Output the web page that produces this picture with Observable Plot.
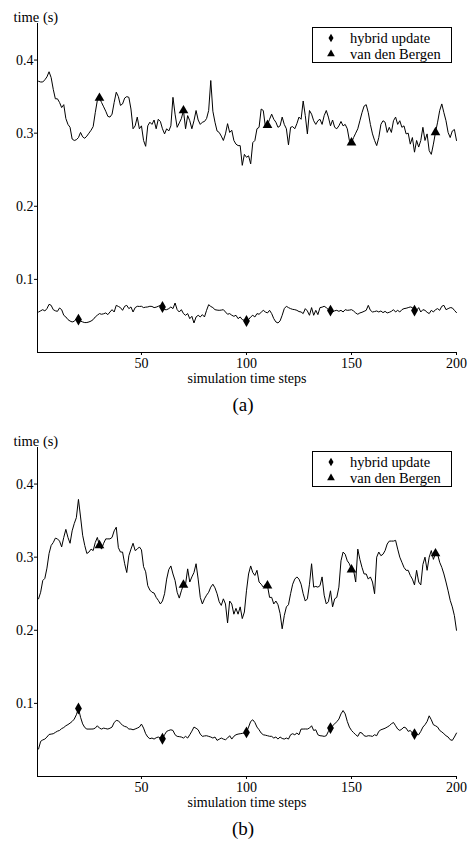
<!DOCTYPE html>
<html>
<head>
<meta charset="utf-8">
<script src="https://cdn.jsdelivr.net/npm/d3@7"></script>
<script src="https://cdn.jsdelivr.net/npm/@observablehq/plot@0.6"></script>
<style>
  body { margin: 0; background: #fff; font-family: "Liberation Serif", "Times New Roman", "DejaVu Serif", serif; }
  .panel { position: relative; width: 473px; height: 424px; }
  .panel svg { display: block; font-family: "Liberation Serif", "Times New Roman", "DejaVu Serif", serif !important; }
  .panel svg text { font-family: "Liberation Serif", "Times New Roman", "DejaVu Serif", serif !important; }
  .legend { position: absolute; left: 312px; top: 27px; width: 140px; height: 36px;
            border: 1px solid #000; box-sizing: border-box; background: #fff;
            font-family: "Liberation Serif", "Times New Roman", serif; font-size: 14.5px; color: #000; }
  .legend .item { position: absolute; left: 0; height: 16px; width: 100%; }
  .legend .item svg { position: absolute; left: 12px; top: 2px; }
  .legend .item span { position: absolute; left: 37px; top: 0px; white-space: nowrap; line-height: 16px; }
</style>
</head>
<body>
<div id="root"></div>
<script>
// ---- data ----
const xTicks = [50, 100, 150, 200];
const yTicks = [0.1, 0.2, 0.3, 0.4];
const hybridMarkSteps = [20, 60, 100, 140, 180];
const vdbMarkSteps = [30, 70, 110, 150, 190];
const seriesNames = ["hybrid update", "van den Bergen"];
const captions = ["(a)", "(b)"];

// panel (a): van den Bergen, steps 1..200
const vdbA = [
.371,.370,.370,.373,.377,.384,.376,.360,.347,.347,.342,.335,.339,.320,.312,.308,.292,.290,.291,.294,
.301,.295,.293,.296,.300,.304,.309,.328,.345,.348,.342,.336,.330,.323,.322,.326,.342,.356,.350,.338,
.340,.348,.350,.349,.333,.306,.310,.322,.306,.310,.290,.282,.310,.315,.312,.318,.306,.319,.316,.306,
.299,.306,.303,.310,.349,.326,.308,.314,.320,.331,.306,.324,.317,.306,.317,.331,.318,.312,.315,.316,
.320,.331,.372,.330,.315,.303,.301,.296,.290,.299,.313,.301,.304,.290,.285,.283,.283,.256,.271,.267,
.269,.258,.287,.290,.306,.308,.333,.331,.309,.311,.319,.326,.319,.315,.308,.310,.322,.312,.306,.284,
.308,.309,.306,.313,.322,.319,.344,.324,.299,.331,.326,.317,.312,.317,.319,.312,.324,.331,.322,.310,
.318,.308,.306,.310,.316,.310,.312,.306,.290,.287,.294,.300,.306,.317,.328,.337,.339,.328,.312,.299,
.290,.283,.294,.312,.317,.315,.301,.308,.301,.317,.322,.312,.317,.308,.310,.299,.300,.285,.294,.274,
.290,.281,.290,.308,.290,.299,.276,.271,.285,.301,.315,.331,.340,.328,.317,.301,.294,.303,.305,.290
];
// panel (a): hybrid update
const hybridA = [
.0554,.0570,.0586,.0568,.0600,.0659,.0645,.0586,.0570,.0563,.0609,.0586,.0509,.0486,.0450,.0430,.0418,.0427,.0463,.0450,
.0430,.0418,.0409,.0410,.0418,.0430,.0450,.0486,.0510,.0532,.0523,.0530,.0541,.0518,.0554,.0586,.0554,.0645,.0630,.0614,
.0577,.0632,.0645,.0600,.0623,.0554,.0614,.0632,.0630,.0632,.0614,.0620,.0623,.0632,.0630,.0614,.0620,.0632,.0645,.0623,
.0586,.0586,.0600,.0623,.0600,.0677,.0586,.0554,.0586,.0532,.0509,.0532,.0463,.0495,.0404,.0486,.0509,.0486,.0518,.0486,
.0577,.0654,.0630,.0614,.0586,.0580,.0577,.0580,.0586,.0554,.0523,.0532,.0510,.0495,.0509,.0463,.0486,.0450,.0440,.0430,
.0450,.0486,.0509,.0486,.0532,.0523,.0550,.0577,.0554,.0541,.0577,.0532,.0463,.0418,.0404,.0432,.0509,.0600,.0632,.0614,
.0600,.0590,.0586,.0577,.0560,.0554,.0532,.0600,.0568,.0509,.0614,.0509,.0577,.0518,.0614,.0620,.0632,.0614,.0586,.0573,
.0554,.0570,.0577,.0563,.0577,.0554,.0586,.0577,.0580,.0586,.0568,.0541,.0523,.0541,.0550,.0563,.0577,.0645,.0577,.0554,
.0560,.0568,.0554,.0568,.0545,.0563,.0541,.0550,.0563,.0586,.0554,.0577,.0554,.0586,.0600,.0605,.0614,.0623,.0614,.0573,
.0577,.0614,.0554,.0586,.0577,.0550,.0532,.0577,.0554,.0586,.0600,.0577,.0632,.0645,.0586,.0600,.0614,.0610,.0577,.0545
];
// panel (b): van den Bergen
const vdbB = [
.243,.252,.268,.271,.285,.305,.316,.320,.326,.325,.322,.314,.327,.338,.327,.319,.336,.346,.354,.379,
.355,.330,.316,.305,.307,.311,.309,.320,.327,.316,.311,.319,.325,.325,.325,.327,.336,.341,.313,.307,
.307,.291,.279,.302,.311,.319,.309,.311,.314,.310,.287,.280,.261,.255,.252,.251,.245,.241,.236,.240,
.250,.270,.283,.288,.277,.268,.252,.244,.254,.262,.263,.284,.266,.273,.279,.291,.270,.245,.236,.243,
.248,.252,.259,.263,.258,.250,.239,.234,.243,.236,.210,.240,.236,.222,.230,.222,.232,.216,.225,.254,
.277,.288,.279,.275,.282,.266,.263,.259,.263,.261,.245,.245,.236,.240,.235,.223,.202,.220,.232,.235,
.250,.263,.270,.273,.270,.263,.250,.240,.243,.263,.291,.259,.260,.259,.261,.273,.248,.236,.239,.254,
.232,.243,.245,.259,.295,.307,.304,.295,.291,.283,.282,.266,.311,.297,.286,.277,.277,.270,.273,.266,
.250,.300,.307,.302,.304,.309,.318,.322,.322,.322,.323,.311,.300,.293,.286,.282,.282,.275,.270,.262,
.282,.266,.262,.290,.300,.282,.300,.309,.297,.305,.304,.293,.286,.277,.266,.254,.241,.232,.220,.200
];
// panel (b): hybrid update
const hybridB = [
.0376,.0481,.0500,.0512,.0540,.0575,.0580,.0585,.0603,.0620,.0630,.0655,.0670,.0694,.0710,.0730,.0753,.0785,.0844,.0930,
.0810,.0720,.0670,.0649,.0649,.0649,.0650,.0662,.0694,.0662,.0649,.0662,.0655,.0649,.0660,.0676,.0739,.0766,.0762,.0730,
.0700,.0685,.0676,.0649,.0649,.0639,.0650,.0662,.0676,.0717,.0662,.0585,.0540,.0517,.0526,.0512,.0530,.0540,.0526,.0517,
.0571,.0617,.0630,.0639,.0630,.0571,.0549,.0545,.0540,.0526,.0549,.0526,.0571,.0620,.0676,.0660,.0639,.0580,.0549,.0555,
.0558,.0549,.0540,.0526,.0540,.0494,.0510,.0526,.0512,.0503,.0526,.0558,.0512,.0550,.0571,.0580,.0585,.0590,.0594,.0603,
.0676,.0753,.0776,.0739,.0676,.0639,.0594,.0571,.0565,.0558,.0550,.0549,.0526,.0540,.0512,.0540,.0520,.0512,.0526,.0512,
.0571,.0585,.0571,.0594,.0571,.0649,.0649,.0650,.0649,.0662,.0694,.0630,.0639,.0571,.0558,.0555,.0549,.0558,.0617,.0662,
.0694,.0720,.0750,.0785,.0857,.0902,.0857,.0753,.0676,.0630,.0600,.0571,.0549,.0603,.0594,.0558,.0549,.0558,.0555,.0549,
.0571,.0558,.0617,.0639,.0649,.0660,.0676,.0694,.0721,.0739,.0694,.0649,.0630,.0649,.0676,.0662,.0617,.0630,.0594,.0580,
.0575,.0571,.0617,.0676,.0708,.0753,.0830,.0776,.0708,.0694,.0676,.0630,.0610,.0585,.0558,.0540,.0503,.0494,.0540,.0594
];

const steps = d3.range(1, 201);
const FONT = '"Liberation Serif", "Times New Roman", serif';

function panel(hybrid, vdb, caption) {
  const rows = steps.map((s, i) => ({step: s, hybrid: hybrid[i], vdb: vdb[i]}));
  const chart = Plot.plot({
    width: 473, height: 424,
    marginTop: 23, marginBottom: 72, marginLeft: 37, marginRight: 17,
    style: {fontFamily: FONT, fontSize: "14px", color: "#000", background: "#fff", overflow: "visible"},
    x: {domain: [0.5, 200], ticks: xTicks, tickSize: 3, tickPadding: 3, line: true, label: null},
    y: {domain: [0, 0.45], ticks: yTicks, tickSize: 3, tickPadding: 1, line: true, label: null,
        tickFormat: d => d.toFixed(1)},
    marks: [
      Plot.line(rows, {x: "step", y: "vdb", stroke: "#000", strokeWidth: 1}),
      Plot.line(rows, {x: "step", y: "hybrid", stroke: "#000", strokeWidth: 1}),
      Plot.dot(rows.filter(d => hybridMarkSteps.includes(d.step)),
        {x: "step", y: "hybrid", symbol: "diamond", fill: "#000", stroke: "none", r: 3.6}),
      Plot.dot(rows.filter(d => vdbMarkSteps.includes(d.step)),
        {x: "step", y: "vdb", symbol: "triangle", fill: "#000", stroke: "none", r: 3.6}),
      Plot.text(["time (s)"], {text: d => d, frameAnchor: "top-left", textAnchor: "start",
        dx: -24, dy: -12, fontSize: 14.5, fill: "#000"}),
      Plot.text(["simulation time steps"], {text: d => d, frameAnchor: "bottom",
        dy: 30.5, fontSize: 14, fill: "#000"}),
      Plot.text([caption], {text: d => d, frameAnchor: "bottom", dx: -4, dy: 58, fontSize: 19, fill: "#000"})
    ]
  });
  const div = document.createElement("div");
  div.className = "panel";
  div.appendChild(chart);
  // legend
  const leg = document.createElement("div");
  leg.className = "legend";
  const syms = [d3.symbolDiamond, d3.symbolTriangle];
  seriesNames.forEach((name, i) => {
    const item = document.createElement("div");
    item.className = "item";
    item.style.top = (i === 0 ? 2 : 18) + "px";
    const svg = d3.create("svg").attr("width", 12).attr("height", 12);
    svg.append("path")
      .attr("transform", "translate(6,6)")
      .attr("d", d3.symbol(syms[i], i === 0 ? 22 : 26)())
      .attr("fill", "#000");
    item.appendChild(svg.node());
    const span = document.createElement("span");
    span.textContent = name;
    item.appendChild(span);
    leg.appendChild(item);
  });
  div.appendChild(leg);
  return div;
}

const root = document.getElementById("root");
root.appendChild(panel(hybridA, vdbA, captions[0]));
root.appendChild(panel(hybridB, vdbB, captions[1]));
</script>
</body>
</html>
